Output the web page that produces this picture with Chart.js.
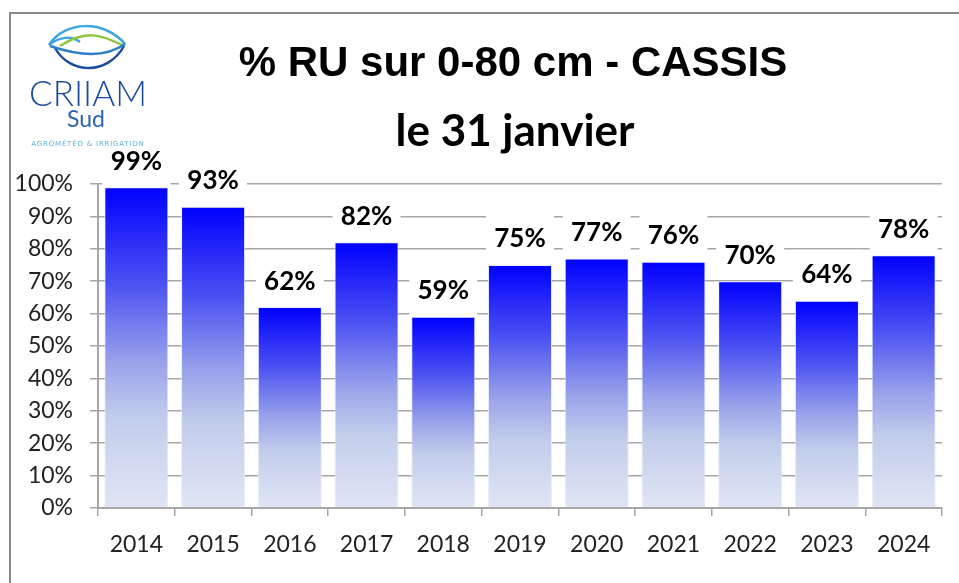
<!DOCTYPE html>
<html>
<head>
<meta charset="utf-8">
<script src="https://cdn.jsdelivr.net/npm/chart.js@4.4.1/dist/chart.umd.min.js"></script>
<style>
  html, body { margin: 0; padding: 0; background: #fff; }
  .frame {
    position: absolute; left: 9px; top: 12px; width: 1000px; height: 600px;
    border-top: 2px solid #8a8a8a; border-left: 2px solid #8a8a8a;
  }
  .wrap { position: absolute; left: 0; top: 0; width: 959px; height: 583px; }
</style>
</head>
<body>
<div class="frame"></div>
<div class="wrap"><canvas id="chart" width="959" height="583"></canvas></div>
<script>
// data
const years = ["2014", "2015", "2016", "2017", "2018", "2019", "2020", "2021", "2022", "2023", "2024"];
const ruPercent = [99, 93, 62, 82, 59, 75, 77, 76, 70, 64, 78];
const yTicks = [0, 10, 20, 30, 40, 50, 60, 70, 80, 90, 100];
const titleLine1 = "% RU sur 0-80 cm - CASSIS";
const titleLine2 = "le 31 janvier";

const gridGray = "#a6a6a6";

// gradient per bar, blue on top going pale at the base
function barGradient(ctx) {
  const chart = ctx.chart;
  if (!chart.chartArea || ctx.raw === undefined) return "#0000ff";
  const y = chart.scales.y;
  const top = y.getPixelForValue(ctx.raw);
  const bottom = y.getPixelForValue(0);
  const g = chart.ctx.createLinearGradient(0, top, 0, bottom);
  g.addColorStop(0, "#0000ff");
  g.addColorStop(0.3, "#4c52f2");
  g.addColorStop(0.55, "#9aa3ea");
  g.addColorStop(0.72, "#c2cdeb");
  g.addColorStop(1, "#e0e6f5");
  return g;
}

// title + logo
const headerPlugin = {
  id: "header",
  afterDraw(chart) {
    const c = chart.ctx;
    c.save();
    c.fillStyle = "#000";
    c.textAlign = "center";
    c.textBaseline = "alphabetic";
    c.font = "bold 42px 'Liberation Sans', Arial, sans-serif";
    c.fillText(titleLine1, 513, 76);
    c.font = "bold 44px Lato, sans-serif";
    c.fillText(titleLine2, 515, 146);

    // logo waves
    c.lineWidth = 2.5;
    c.strokeStyle = "#3fa6e0";
    c.beginPath();
    c.moveTo(49, 45);
    c.bezierCurveTo(65, 20, 105, 20, 125, 44);
    c.stroke();
    c.beginPath();
    c.moveTo(49, 45);
    c.bezierCurveTo(60, 36, 72, 36, 80, 42);
    c.stroke();
    c.strokeStyle = "#8cc63f";
    c.beginPath();
    c.moveTo(60, 46);
    c.bezierCurveTo(85, 30, 100, 34, 122, 45);
    c.stroke();
    c.strokeStyle = "#1f4e9c";
    c.beginPath();
    c.moveTo(55, 48);
    c.bezierCurveTo(70, 75, 108, 75, 124, 46);
    c.stroke();
    c.strokeStyle = "#2d7fc8";
    c.beginPath();
    c.moveTo(50, 46);
    c.bezierCurveTo(80, 56, 105, 58, 125, 44);
    c.stroke();

    c.fillStyle = "#1a4a98";
    c.font = "300 35px Lato, sans-serif";
    c.fillText("CRIIAM", 88, 106);
    c.fillStyle = "#2a63b0";
    c.font = "23px Lato, sans-serif";
    c.fillText("Sud", 86, 127);
    c.fillStyle = "#5ab2e2";
    c.font = "7px 'DejaVu Sans', sans-serif";
    c.letterSpacing = "0.8px";
    c.fillText("AGROMÉTÉO & IRRIGATION", 88, 146);
    c.restore();
  }
};

// value labels on white boxes
const valueLabels = {
  id: "valueLabels",
  afterDatasetsDraw(chart) {
    const c = chart.ctx;
    const meta = chart.getDatasetMeta(0);
    c.save();
    c.font = "bold 26px Lato, sans-serif";
    c.textAlign = "center";
    c.textBaseline = "middle";
    meta.data.forEach((bar, i) => {
      const cy = bar.y - 26;
      c.fillStyle = "#fff";
      c.fillRect(bar.x - 34, cy - 25, 68, bar.y - 2 - (cy - 25));
      c.fillStyle = "#000";
      c.fillText(Math.round(ruPercent[i]) + "%", bar.x, cy);
    });
    c.restore();
  }
};

function draw() {
  new Chart(document.getElementById("chart"), {
    type: "bar",
    data: {
      labels: years,
      datasets: [{
        data: ruPercent,
        backgroundColor: barGradient,
        borderColor: "rgba(230,236,248,0.9)",
        borderWidth: 1,
        barPercentage: 1,
        categoryPercentage: 0.835
      }]
    },
    options: {
      responsive: false,
      animation: false,
      layout: { padding: { top: 184, right: 17, left: 0, bottom: 0 } },
      plugins: {
        legend: { display: false },
        tooltip: { enabled: false }
      },
      scales: {
        x: {
          grid: { offset: true, drawOnChartArea: false, drawTicks: true, tickLength: 8, color: gridGray, lineWidth: 1.5 },
          border: { color: gridGray, width: 2 },
          ticks: { color: "#222", font: { family: "Lato", size: 23 }, padding: 15 },
          afterFit(scale) { scale.height = 75; }
        },
        y: {
          min: 0,
          max: 100,
          afterBuildTicks(scale) { scale.ticks = yTicks.map(v => ({ value: v })); },
          grid: { color: gridGray, lineWidth: 1.5, tickLength: 8 },
          border: { color: gridGray, width: 2 },
          ticks: { color: "#222", font: { family: "Lato", size: 23 }, padding: 17, callback: v => v + "%" },
          afterFit(scale) { scale.width = 98; }
        }
      }
    },
    plugins: [headerPlugin, valueLabels]
  });
}

Promise.all([
  document.fonts.load("23px Lato"),
  document.fonts.load("bold 26px Lato"),
  document.fonts.load("300 35px Lato"),
  document.fonts.load("bold 42px 'Liberation Sans'")
]).then(draw, draw);
</script>
</body>
</html>
